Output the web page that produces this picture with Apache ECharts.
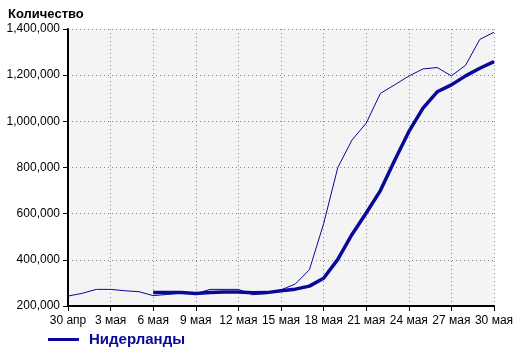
<!DOCTYPE html>
<html>
<head>
<meta charset="utf-8">
<script src="https://cdn.jsdelivr.net/npm/echarts@6/dist/echarts.min.js"></script>
<style>
html,body{margin:0;padding:0;background:#fff;}
#chart{width:520px;height:353px;}
</style>
</head>
<body>
<div id="chart"></div>
<script>
// даты по оси X
var days = ['30 апр','1 мая','2 мая','3 мая','4 мая','5 мая','6 мая','7 мая','8 мая','9 мая',
	'10 мая','11 мая','12 мая','13 мая','14 мая','15 мая','16 мая','17 мая','18 мая','19 мая',
	'20 мая','21 мая','22 мая','23 мая','24 мая','25 мая','26 мая','27 мая','28 мая','29 мая','30 мая'];

// тонкая линия - значения по дням
var daily = [243000,255000,272000,272000,266000,262000,245000,250000,256000,253000,
	272000,272000,272000,249000,254000,270000,295000,357000,556000,800000,
	919000,992000,1121000,1158000,1196000,1227000,1233000,1197000,1243000,1355000,1386000];

// толстая линия - сглаженная (с 6 мая)
var smooth = [null,null,null,null,null,null,259000,259000,258000,254000,
	259000,261000,261000,257000,258000,266000,273000,286000,320000,402000,
	510000,603000,700000,830000,955000,1057000,1128000,1158000,1197000,1230000,1259000];

var yTicks = {min:200000,max:1400000,step:200000};

var navy = '#08089a';
var fnt = 'Liberation Sans, Arial, sans-serif';

var chart = echarts.init(document.getElementById('chart'));
var option = {
	animation:false,
	title:{text:'Количество',left:3,top:3,textStyle:{fontFamily:fnt,fontSize:13,fontWeight:'bold',color:'#000'}},
	legend:{
		data:['Нидерланды'],left:43,bottom:1,icon:'rect',itemWidth:31,itemHeight:3,itemGap:6,
		textStyle:{fontFamily:fnt,fontSize:15,fontWeight:'bold',color:navy,padding:[0,0,0,5]}
	},
	grid:{left:68,right:26,top:29,bottom:47,show:true,backgroundColor:'#f4f4f4',borderWidth:0},
	xAxis:{
		type:'category',boundaryGap:false,data:days,
		axisLine:{lineStyle:{color:'#000',width:2}},
		axisTick:{interval:2,length:5,lineStyle:{color:'#000',width:1}},
		axisLabel:{interval:2,margin:9,fontFamily:fnt,fontSize:12,color:'#000'},
		splitLine:{show:true,interval:2,lineStyle:{color:'#888',type:[1,3],width:1}}
	},
	yAxis:{
		type:'value',min:yTicks.min,max:yTicks.max,interval:yTicks.step,
		axisLine:{show:true,lineStyle:{color:'#000',width:2}},
		axisTick:{show:true,length:5,lineStyle:{color:'#000',width:1}},
		axisLabel:{margin:8,fontFamily:fnt,fontSize:12,color:'#000',
			formatter:function(v){return v.toString().replace(/\B(?=(\d{3})+(?!\d))/g,',');}},
		splitLine:{show:true,lineStyle:{color:'#888',type:[1,3],width:1}}
	},
	series:[
		{name:'по дням',type:'line',data:daily,showSymbol:false,symbol:'none',
			lineStyle:{color:navy,width:1},itemStyle:{color:navy}},
		{name:'Нидерланды',type:'line',data:smooth,showSymbol:false,symbol:'none',
			lineStyle:{color:navy,width:3.5},itemStyle:{color:navy}}
	]
};
chart.setOption(option);
</script>
</body>
</html>
